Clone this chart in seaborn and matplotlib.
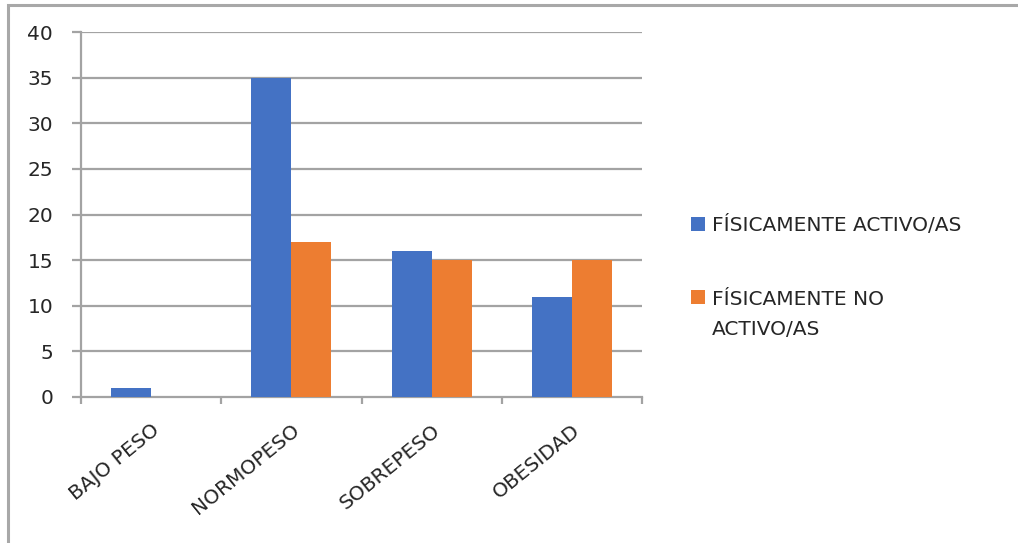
import matplotlib
matplotlib.use("Agg")
import matplotlib.pyplot as plt
from matplotlib.patches import Rectangle, Patch
import pandas as pd
import seaborn as sns

# Data
categories = ["BAJO PESO", "NORMOPESO", "SOBREPESO", "OBESIDAD"]
activos = [1, 35, 16, 11]
no_activos = [0, 17, 15, 15]
series_names = ["FÍSICAMENTE ACTIVO/AS", "FÍSICAMENTE NO ACTIVO/AS"]
legend_labels = ["FÍSICAMENTE ACTIVO/AS", "FÍSICAMENTE NO\nACTIVO/AS"]
y_ticks = [0, 5, 10, 15, 20, 25, 30, 35, 40]

df = pd.DataFrame({
    "categoria": categories * 2,
    "grupo": [series_names[0]] * len(categories) + [series_names[1]] * len(categories),
    "valor": activos + no_activos,
})

sns.set_theme(style="white")
plt.rcParams["font.family"] = ["DejaVu Sans"]

W, H = 1018, 543
fig = plt.figure(figsize=(W / 100, H / 100), dpi=100)
ax = fig.add_axes([81 / W, 1 - 397 / H, (642 - 81) / W, (397 - 32) / H])

text_color = "#262626"
grid_color = "#a3a3a3"
fs = 14.5
palette = {series_names[0]: "#4472C4", series_names[1]: "#ED7D31"}

sns.barplot(data=df, x="categoria", y="valor", hue="grupo", order=categories,
            hue_order=series_names, palette=palette, width=0.57,
            saturation=1, linewidth=0, legend=False, ax=ax, zorder=3)

ax.set_xlim(-0.5, len(categories) - 0.5)
ax.set_ylim(0, 40)
ax.set_yticks(y_ticks)
ax.set_xlabel("")
ax.set_ylabel("")

# Horizontal gridlines
for t in y_ticks[1:]:
    ax.axhline(t, color=grid_color, lw=1.6, zorder=1)

for s in ["top", "right"]:
    ax.spines[s].set_visible(False)
for s in ["left", "bottom"]:
    ax.spines[s].set_color(grid_color)
    ax.spines[s].set_linewidth(1.6)

ax.tick_params(axis="y", which="major", length=6.5, width=1.6, color=grid_color,
               direction="out", pad=13.5, labelsize=fs, labelcolor=text_color, left=True)
# Category boundary tick marks
ax.set_xticks([i - 0.5 for i in range(len(categories) + 1)], minor=True)
ax.tick_params(axis="x", which="minor", length=5, width=1.6, color=grid_color,
               direction="out", bottom=True)
ax.tick_params(axis="x", which="major", length=0, pad=17, labelsize=fs,
               labelcolor=text_color)
for lab in ax.get_xticklabels():
    lab.set_rotation(39)
    lab.set_ha("right")
    lab.set_rotation_mode("anchor")

# Legend
handles = [Patch(facecolor=palette[n], edgecolor="none") for n in series_names]
leg = fig.legend(handles, legend_labels, loc="upper left",
                 bbox_to_anchor=(683 / W, 1 - 207 / H), frameon=False,
                 fontsize=fs, handlelength=0.68, handleheight=0.68,
                 handletextpad=0.35, labelspacing=2.75, borderaxespad=0)
for t in leg.get_texts():
    t.set_color(text_color)
    t.set_linespacing(1.68)
# Put each marker beside the first line of its label
for col in leg._legend_handle_box.get_children():
    rows = col.get_children()
    for row in rows[1:]:
        row.align = "top"

# Outer border of the chart area
fig.patches.append(Rectangle((8 / W, -0.1), 1.2, 1.1 - 5 / H, transform=fig.transFigure,
                             fill=False, edgecolor="#a8a8a8", lw=2.2, zorder=10))

fig.savefig("out.png", dpi=100)
